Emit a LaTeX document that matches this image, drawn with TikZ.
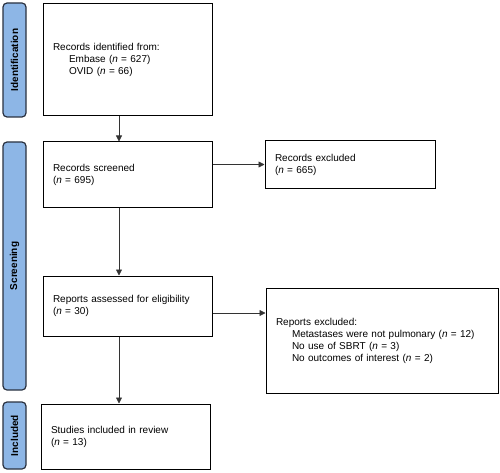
\documentclass[tikz,border=0pt]{standalone}
\usepackage{fontspec}
\setmainfont{Liberation Sans}
\usetikzlibrary{arrows.meta}
\definecolor{barblue}{HTML}{8DB6E6}
\definecolor{barline}{HTML}{2A3140}
\tikzset{
  box/.style={draw=black, line width=1pt, fill=white, align=left, inner xsep=10pt, inner ysep=0pt,
    font=\fontsize{10}{12}\selectfont},
  bar/.style={draw=barline, line width=1.2pt, fill=barblue, rounded corners=4pt, minimum width=23pt,
    inner sep=0pt, font=\fontsize{10}{12}\selectfont\bfseries},
  arr/.style={line width=0.8pt, draw=black!80, -{Triangle[length=6pt,width=6pt]}},
}
\begin{document}
\begin{tikzpicture}[x=1pt,y=-1pt]
\useasboundingbox (0,0) rectangle (500,473);
% side bars
\node[bar, minimum height=114pt] (barid) at (14.5,60) {\rotatebox{90}{Identification}};
\node[bar, minimum height=248pt] (barsc) at (14.5,266) {\rotatebox{90}{Screening}};
\node[bar, minimum height=67pt] (barin) at (14.5,435.5) {\rotatebox{90}{Included}};
% boxes
\node[box, text width=149pt, minimum height=112pt] (ident) at (127.5,60)
  {Records identified from:\\\hspace*{16pt}Embase (\textit{n} = 627)\\\hspace*{16pt}OVID (\textit{n} = 66)};
\node[box, text width=149pt, minimum height=65pt] (screen) at (127.5,174.5)
  {Records screened\\(\textit{n} = 695)};
\node[box, text width=150pt, minimum height=47pt] (excl1) at (350,164.5)
  {Records excluded\\(\textit{n} = 665)};
\node[box, text width=149pt, minimum height=60pt] (assess) at (127.5,306)
  {Reports assessed for eligibility\\(\textit{n} = 30)};
\node[box, text width=212pt, minimum height=105pt] (excl2) at (382,340.5)
  {Reports excluded:\\\hspace*{16pt}Metastases were not pulmonary (\textit{n} = 12)\\\hspace*{16pt}No use of SBRT (\textit{n} = 3)\\\hspace*{16pt}No outcomes of interest (\textit{n} = 2)};
\node[box, text width=149pt, minimum height=65pt] (incl) at (125.5,436.5)
  {Studies included in review\\(\textit{n} = 13)};
% connectors
\coordinate (vx) at (119,0);
\coordinate (hy) at (0,313);
\draw[arr] (ident.south -| vx) -- (screen.north -| vx);
\draw[arr] (screen.south -| vx) -- (assess.north -| vx);
\draw[arr] (assess.south -| vx) -- (incl.north -| vx);
\draw[arr] (screen.east |- excl1.west) -- (excl1.west);
\draw[arr] (assess.east |- hy) -- (excl2.west |- hy);
\end{tikzpicture}
\end{document}
